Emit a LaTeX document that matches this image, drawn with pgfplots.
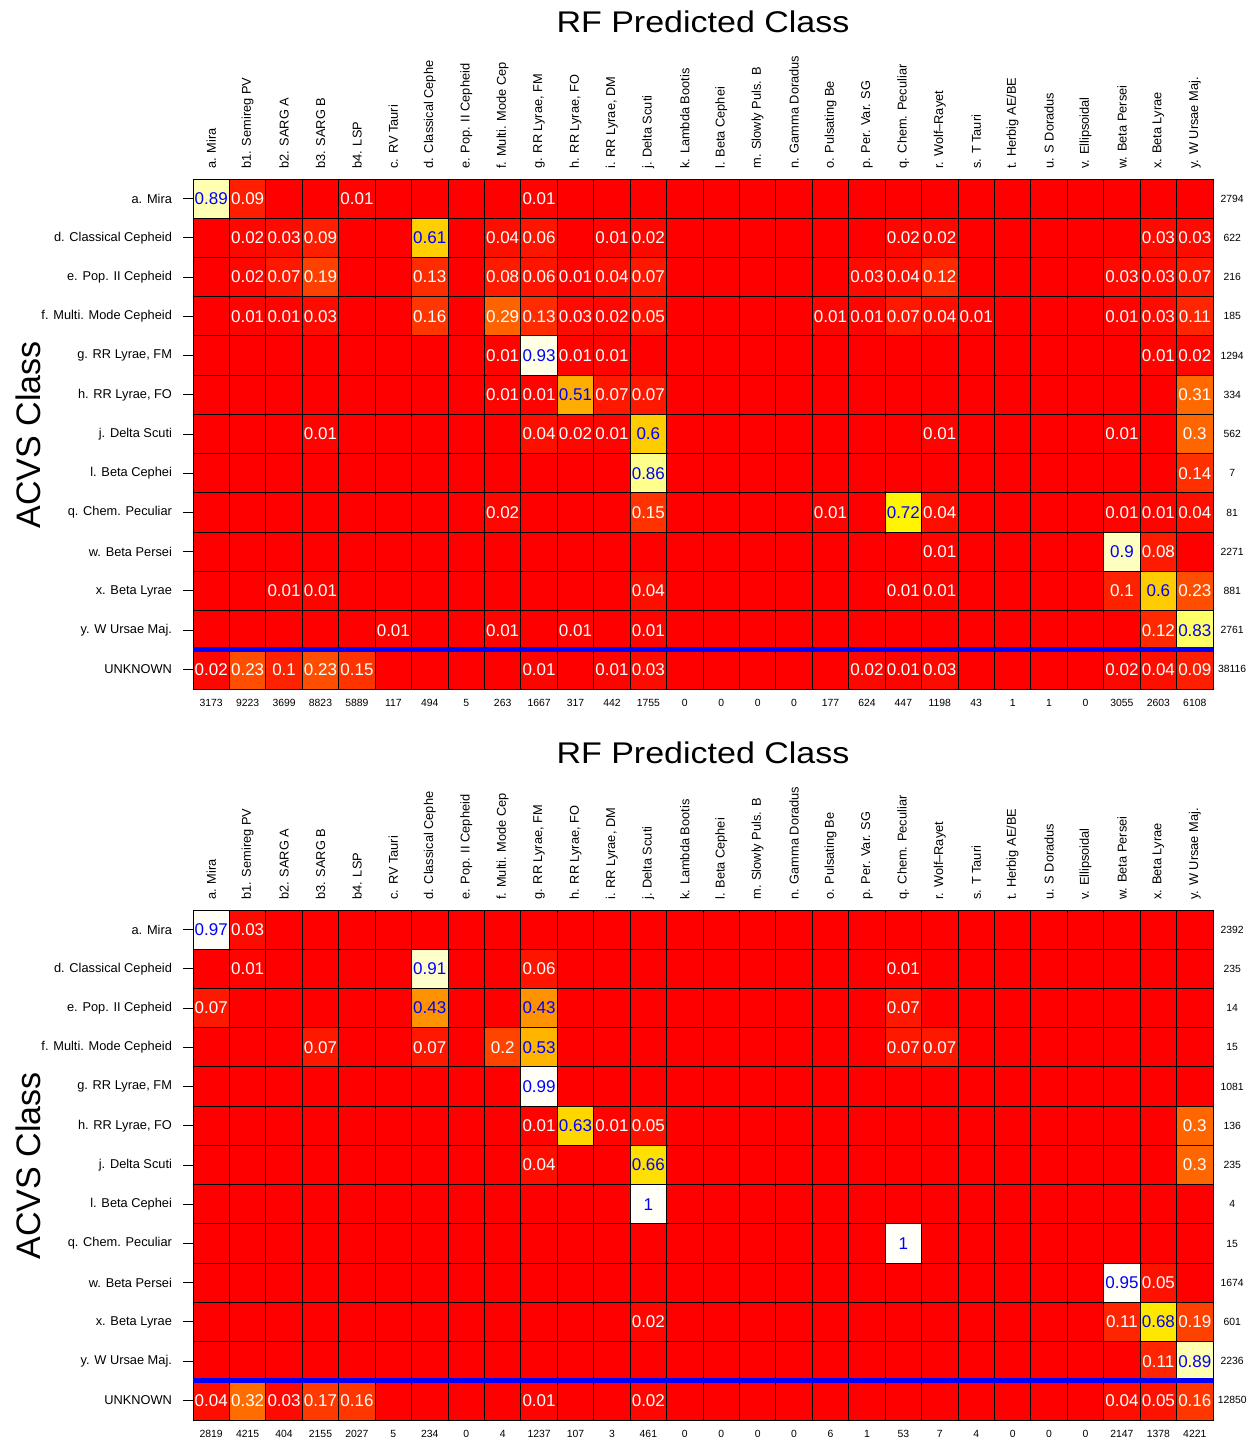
\documentclass[border=0pt]{standalone}
\usepackage{fontspec}
\setmainfont{Liberation Sans}
\usepackage{pgfplots}
\usepackage{pgfplotstable}
\pgfplotsset{compat=1.18}

% heat colour of a cell (red -> yellow -> pale yellow), from its share
\newdimen\heatv \newdimen\heatg \newdimen\heatb
\makeatletter
\newcommand\setheatcolor[1]{%
  \heatv=#1pt\relax
  \heatg=1.33333\heatv \ifdim\heatg>1pt \heatg=1pt\fi
  \ifdim\heatv>0.75pt
    \heatb=\heatv \advance\heatb by -0.75pt \heatb=5\heatb
    \ifdim\heatb>0.97pt \heatb=0.97pt\fi
  \else \heatb=0pt\fi
  \edef\heatgv{\strip@pt\heatg}\edef\heatbv{\strip@pt\heatb}%
  \definecolor{heatc}{rgb}{1,\heatgv,\heatbv}}
\makeatother

\pgfdeclareplotmark{heatcell}{%
  \pgfmathfloattofixed{\pgfplotspointmeta}\setheatcolor{\pgfmathresult}%
  \pgfsetfillcolor{heatc}\pgfsetstrokecolor{black}%
  \pgfpathrectangle{\pgfpoint{-9.107pt}{-9.808pt}}{\pgfpoint{18.214pt}{19.615pt}}%
  \pgfusepathqfillstroke}

% nonzero cells of the top matrix: column, row, share
\pgfplotstableread{
x y z
0 0 0.89
1 0 0.09
4 0 0.01
9 0 0.01
1 1 0.02
2 1 0.03
3 1 0.09
6 1 0.61
8 1 0.04
9 1 0.06
11 1 0.01
12 1 0.02
19 1 0.02
20 1 0.02
26 1 0.03
27 1 0.03
1 2 0.02
2 2 0.07
3 2 0.19
6 2 0.13
8 2 0.08
9 2 0.06
10 2 0.01
11 2 0.04
12 2 0.07
18 2 0.03
19 2 0.04
20 2 0.12
25 2 0.03
26 2 0.03
27 2 0.07
1 3 0.01
2 3 0.01
3 3 0.03
6 3 0.16
8 3 0.29
9 3 0.13
10 3 0.03
11 3 0.02
12 3 0.05
17 3 0.01
18 3 0.01
19 3 0.07
20 3 0.04
21 3 0.01
25 3 0.01
26 3 0.03
27 3 0.11
8 4 0.01
9 4 0.93
10 4 0.01
11 4 0.01
26 4 0.01
27 4 0.02
8 5 0.01
9 5 0.01
10 5 0.51
11 5 0.07
12 5 0.07
27 5 0.31
3 6 0.01
9 6 0.04
10 6 0.02
11 6 0.01
12 6 0.6
20 6 0.01
25 6 0.01
27 6 0.3
12 7 0.86
27 7 0.14
8 8 0.02
12 8 0.15
17 8 0.01
19 8 0.72
20 8 0.04
25 8 0.01
26 8 0.01
27 8 0.04
20 9 0.01
25 9 0.9
26 9 0.08
2 10 0.01
3 10 0.01
12 10 0.04
19 10 0.01
20 10 0.01
25 10 0.1
26 10 0.6
27 10 0.23
5 11 0.01
8 11 0.01
10 11 0.01
12 11 0.01
26 11 0.12
27 11 0.83
0 12 0.02
1 12 0.23
2 12 0.1
3 12 0.23
4 12 0.15
9 12 0.01
11 12 0.01
12 12 0.03
18 12 0.02
19 12 0.01
20 12 0.03
25 12 0.02
26 12 0.04
27 12 0.09
}\topcells

\pgfplotstableread{
x y z
0 0 0.97
1 0 0.03
1 1 0.01
6 1 0.91
9 1 0.06
19 1 0.01
0 2 0.07
6 2 0.43
9 2 0.43
19 2 0.07
3 3 0.07
6 3 0.07
8 3 0.2
9 3 0.53
19 3 0.07
20 3 0.07
9 4 0.99
9 5 0.01
10 5 0.63
11 5 0.01
12 5 0.05
27 5 0.3
9 6 0.04
12 6 0.66
27 6 0.3
12 7 1
19 8 1
25 9 0.95
26 9 0.05
12 10 0.02
25 10 0.11
26 10 0.68
27 10 0.19
26 11 0.11
27 11 0.89
0 12 0.04
1 12 0.32
2 12 0.03
3 12 0.17
4 12 0.16
9 12 0.01
12 12 0.02
25 12 0.04
26 12 0.05
27 12 0.16
}\botcells

\pgfplotsset{
  cmbase/.style={
    scale only axis, width=510pt, height=255pt,
    anchor=north west,
    xmin=-0.5, xmax=27.5, ymin=-0.5, ymax=12.5,
    y dir=reverse, enlargelimits=false, clip=false,
  },
  cm/.style={
    cmbase, axis on top,
    axis background/.style={fill=red},
    point meta min=0, point meta max=1,
    xtick={0,...,27},
    xticklabels={a. Mira, b1. Semireg PV, b2. SARG A, b3. SARG B, b4. LSP, c. RV Tauri,
      d. Classical Cephe, e. Pop. II Cepheid, f. Multi. Mode Cep, {g. RR Lyrae, FM},
      {h. RR Lyrae, FO}, {i. RR Lyrae, DM}, j. Delta Scuti, k. Lambda Bootis, l. Beta Cephei,
      m. Slowly Puls. B, n. Gamma Doradus, o. Pulsating Be, p. Per. Var. SG, q. Chem. Peculiar,
      r. Wolf--Rayet, s. T Tauri, t. Herbig AE/BE, u. S Doradus, v. Ellipsoidal,
      w. Beta Persei, x. Beta Lyrae, y. W Ursae Maj.},
    xticklabel pos=upper,
    xtick style={draw=none},
    xticklabel style={rotate=90, anchor=west, inner sep=0pt, font=\fontsize{6.4}{7}\selectfont},
    ytick={0,...,12},
    yticklabels={a. Mira, d. Classical Cepheid, e. Pop. II Cepheid, f. Multi. Mode Cepheid,
      {g. RR Lyrae, FM}, {h. RR Lyrae, FO}, j. Delta Scuti, l. Beta Cephei, q. Chem. Peculiar,
      w. Beta Persei, x. Beta Lyrae, y. W Ursae Maj., UNKNOWN},
    ytick pos=left,
    tick align=outside,
    major tick length=5pt,
    ytick style={black, line width=0.5pt},
    yticklabel style={font=\fontsize{6.4}{7}\selectfont, xshift=-2pt},
    minor xtick={-0.5,0.5,1.5,2.5,3.5,4.5,5.5,6.5,7.5,8.5,9.5,10.5,11.5,12.5,13.5,14.5,15.5,16.5,17.5,18.5,19.5,20.5,21.5,22.5,23.5,24.5,25.5,26.5,27.5},
    minor ytick={-0.5,0.5,1.5,2.5,3.5,4.5,5.5,6.5,7.5,8.5,9.5,10.5,12.5},
    minor tick length=0pt,
    grid=minor,
    minor grid style={black, line width=0.5pt},
    axis line style={black, line width=0.5pt},
  },
  overlay/.style={
    cmbase,
    axis line style={draw=none},
    tick style={draw=none},
    xtick={0,...,27}, ytick={0,...,12},
    xticklabel pos=lower, yticklabel pos=right,
    xticklabel style={anchor=center, inner sep=0pt, yshift=-7pt, font=\fontsize{5.2}{5.2}\selectfont},
    yticklabel style={anchor=center, inner sep=0pt, xshift=9.6pt, font=\fontsize{5.2}{5.2}\selectfont},
  },
  heatcells/.style={scatter, only marks, mark=heatcell, line width=0.5pt,
    scatter/use mapped color={draw=black},
    point meta=\thisrow{z},
    nodes near coords={\pgfmathfloattofixed{\pgfplotspointmeta}\ifdim\pgfmathresult pt>0.4pt\color{blue}\else\color{white}\fi\pgfmathprintnumber[assume math mode=true, fixed, precision=2]{\pgfplotspointmeta}},
    every node near coord/.append style={anchor=center, inner sep=0pt, font=\fontsize{8.5}{8.5}\selectfont}},
}

\begin{document}
\begin{tikzpicture}
\useasboundingbox (0,0) rectangle (627.5pt,-720.5pt);

% ---------------- top panel ----------------
\node[font=\fontsize{17}{17}\selectfont, anchor=base] at (351.5pt,-16pt) {\scalebox{1}[0.88]{RF Predicted Class}};
\node[font=\fontsize{17}{17}\selectfont, rotate=90, anchor=base] at (20pt,-217.5pt) {ACVS Class};
\begin{axis}[cm, at={(96.5pt,-89.5pt)}]
\addplot[heatcells] table[x=x, y=y] {\topcells};
\end{axis}
\begin{axis}[overlay, at={(96.5pt,-89.5pt)},
  xticklabels={3173,9223,3699,8823,5889,117,494,5,263,1667,317,442,1755,0,0,0,0,177,624,447,1198,43,1,1,0,3055,2603,6108},
  yticklabels={2794,622,216,185,1294,334,562,7,81,2271,881,2761,38116}]
\addplot[blue, line width=2.5pt] coordinates {(-0.5,11.5) (27.5,11.5)};
\end{axis}

% ---------------- bottom panel ----------------
\node[font=\fontsize{17}{17}\selectfont, anchor=base] at (351.5pt,-381.5pt) {\scalebox{1}[0.88]{RF Predicted Class}};
\node[font=\fontsize{17}{17}\selectfont, rotate=90, anchor=base] at (20pt,-583pt) {ACVS Class};
\begin{axis}[cm, at={(96.5pt,-455pt)}]
\addplot[heatcells] table[x=x, y=y] {\botcells};
\end{axis}
\begin{axis}[overlay, at={(96.5pt,-455pt)},
  xticklabels={2819,4215,404,2155,2027,5,234,0,4,1237,107,3,461,0,0,0,0,6,1,53,7,4,0,0,0,2147,1378,4221},
  yticklabels={2392,235,14,15,1081,136,235,4,15,1674,601,2236,12850}]
\addplot[blue, line width=2.5pt] coordinates {(-0.5,11.5) (27.5,11.5)};
\end{axis}
\end{tikzpicture}
\end{document}
